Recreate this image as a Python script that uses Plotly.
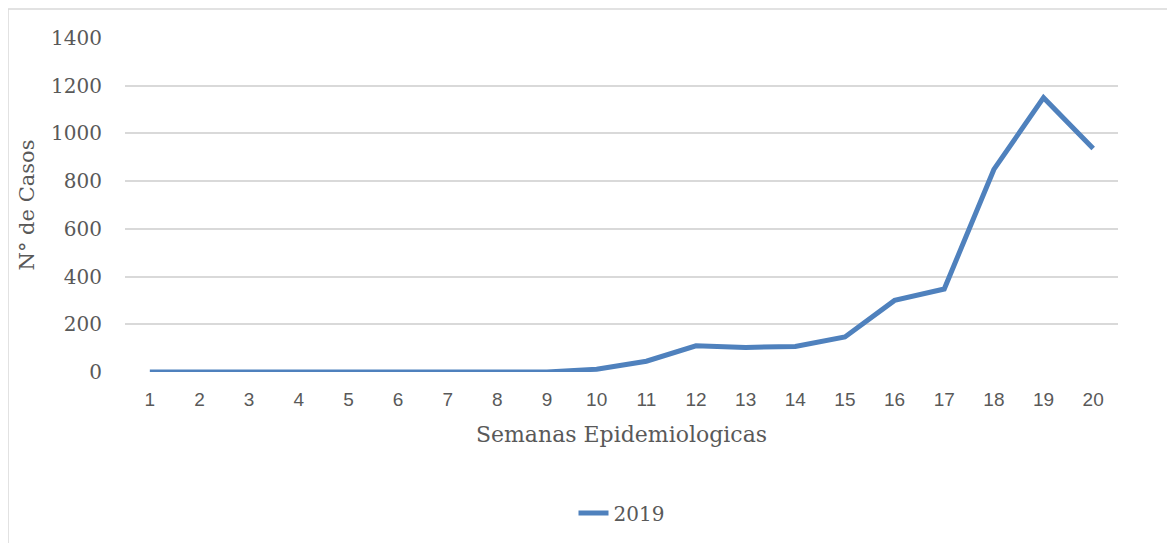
import plotly.graph_objects as go

semanas = [str(i) for i in range(1, 21)]
casos_2019 = [0, 0, 0, 0, 0, 5, 3, 3, 0, 12, 45, 110, 103, 107, 147, 300, 348, 849, 1150, 937]
y_ticks = [0, 200, 400, 600, 800, 1000, 1200, 1400]

fig = go.Figure()
fig.add_trace(go.Scatter(
    x=semanas, y=casos_2019, mode="lines", name="2019",
    line=dict(color="#4F81BD", width=5, shape="linear"),
))

# page is offset by 8px body margin
L, R, T, B = 117, 65, 30, 179
W, H = 1175, 543
pw, ph = W - L - R, H - T - B
serif = "DejaVu Serif, serif"

fig.update_layout(
    width=W, height=H,
    margin=dict(l=L, r=R, t=T, b=B, pad=0),
    paper_bgcolor="white", plot_bgcolor="white",
    showlegend=True,
    legend=dict(orientation="h", x=0.5, xanchor="center", y=(T + ph - 505) / ph, yanchor="middle",
                font=dict(family=serif, size=20, color="#595959")),
    xaxis=dict(
        type="category", range=[-0.5, 19.5],
        showgrid=False, zeroline=False, showline=False, ticks="",
        ticklabelstandoff=14,
        tickfont=dict(family="Liberation Sans Narrow, Liberation Sans, Arial", size=19, color="#595959"),
        title=dict(text="Semanas Epidemiologicas", standoff=17,
                   font=dict(family=serif, size=22, color="#595959")),
    ),
    yaxis=dict(
        range=[0, 1400], tickvals=y_ticks,
        showgrid=True, gridcolor="#D9D9D9", gridwidth=1.5,
        zeroline=False, showline=False, ticks="",
        ticklabelstandoff=22,
        tickfont=dict(family=serif, size=20, color="#595959"),
        title=dict(text="N° de Casos", standoff=10,
                   font=dict(family=serif, size=21, color="#595959")),
    ),
    shapes=[dict(type="rect", xref="paper", yref="paper",
                 x0=(0 - L) / pw, x1=(W + 20 - L) / pw,
                 y0=(T + ph - (H + 20)) / ph, y1=(T + ph - 1) / ph,
                 line=dict(color="#D9D9D9", width=1.5), fillcolor="rgba(0,0,0,0)", layer="below")],
)

fig.write_html("out.html")
